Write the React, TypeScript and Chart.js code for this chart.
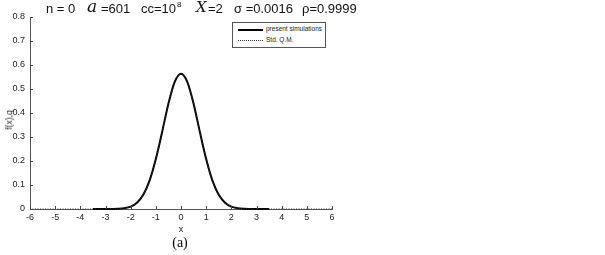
import React, { useEffect, useRef } from "react";
import { Chart, registerables } from "chart.js";

Chart.register(...registerables);

// present simulations (solid)
const simX = [-3.5, -3.25, -3, -2.75, -2.5, -2.25, -2, -1.75, -1.5, -1.25, -1, -0.75, -0.5, -0.25, 0, 0.25, 0.5, 0.75, 1, 1.25, 1.5, 1.75, 2, 2.25, 2.5, 2.75, 3, 3.25, 3.5];
const simY = [0, 0, 0.0001, 0.0003, 0.0011, 0.0036, 0.010, 0.026, 0.059, 0.118, 0.208, 0.321, 0.439, 0.530, 0.564, 0.530, 0.439, 0.321, 0.208, 0.118, 0.059, 0.026, 0.010, 0.0036, 0.0011, 0.0003, 0.0001, 0, 0];

// Std. Q.M. (dotted)
const qmX = [-6, -5.5, -5, -4.5, -4, -3.5, -3.25, -3, -2.75, -2.5, -2.25, -2, -1.75, -1.5, -1.25, -1, -0.75, -0.5, -0.25, 0, 0.25, 0.5, 0.75, 1, 1.25, 1.5, 1.75, 2, 2.25, 2.5, 2.75, 3, 3.25, 3.5, 4, 4.5, 5, 5.5, 6];
const qmY = [0, 0, 0, 0, 0, 0, 0, 0.0001, 0.0003, 0.0011, 0.0036, 0.010, 0.026, 0.059, 0.118, 0.208, 0.321, 0.439, 0.530, 0.564, 0.530, 0.439, 0.321, 0.208, 0.118, 0.059, 0.026, 0.010, 0.0036, 0.0011, 0.0003, 0.0001, 0, 0, 0, 0, 0, 0, 0];

const xTicks = [-6, -5, -4, -3, -2, -1, 0, 1, 2, 3, 4, 5, 6];
const yTicks = [0, 0.1, 0.2, 0.3, 0.4, 0.5, 0.6, 0.7, 0.8];

const seriesNames = ["present simulations", "Std. Q.M."];

const tickFont = { family: "'Liberation Sans', Arial, sans-serif", size: 9 };

const inwardTicks = {
  id: "inwardTicks",
  afterDraw(chart: any) {
    const { ctx, chartArea, scales } = chart;
    ctx.save();
    ctx.strokeStyle = "#444";
    ctx.lineWidth = 1;
    xTicks.forEach((v) => {
      const px = Math.round(scales.x.getPixelForValue(v)) + 0.5;
      ctx.beginPath();
      ctx.moveTo(px, chartArea.bottom);
      ctx.lineTo(px, chartArea.bottom - 3);
      ctx.stroke();
    });
    yTicks.forEach((v) => {
      const py = Math.round(scales.y.getPixelForValue(v)) + 0.5;
      ctx.beginPath();
      ctx.moveTo(chartArea.left, py);
      ctx.lineTo(chartArea.left + 3, py);
      ctx.stroke();
    });
    ctx.restore();
  },
};

export default function App() {
  const ref = useRef<HTMLCanvasElement | null>(null);

  useEffect(() => {
    if (!ref.current) return;
    const chart = new Chart(ref.current, {
      type: "line",
      data: {
        datasets: [
          {
            label: seriesNames[1],
            data: qmX.map((x, i) => ({ x, y: qmY[i] })),
            borderColor: "#333",
            borderWidth: 1,
            borderDash: [1, 1.5],
            pointRadius: 0,
            cubicInterpolationMode: "monotone",
            clip: 2,
          },
          {
            label: seriesNames[0],
            data: simX.map((x, i) => ({ x, y: simY[i] })),
            borderColor: "#000",
            borderWidth: 2,
            pointRadius: 0,
            cubicInterpolationMode: "monotone",
            clip: 2,
          },
        ],
      },
      options: {
        animation: false,
        responsive: true,
        maintainAspectRatio: false,
        layout: { padding: { left: 0, top: 17, right: 273, bottom: 0 } },
        plugins: { legend: { display: false }, tooltip: { enabled: false } },
        scales: {
          x: {
            type: "linear",
            min: -6,
            max: 6,
            afterBuildTicks: (s: any) => {
              s.ticks = xTicks.map((v) => ({ value: v }));
            },
            afterFit: (s: any) => {
              s.height = 46;
            },
            grid: { display: false, drawTicks: false },
            border: { display: true, color: "#555", width: 1 },
            ticks: {
              font: tickFont,
              color: "#222",
              padding: 3,
              maxRotation: 0,
              autoSkip: false,
              callback: (v: any) => String(v),
            },
          },
          y: {
            type: "linear",
            min: 0,
            max: 0.8,
            afterBuildTicks: (s: any) => {
              s.ticks = yTicks.map((v) => ({ value: v }));
            },
            afterFit: (s: any) => {
              s.width = 30;
            },
            grid: { display: false, drawTicks: false },
            border: { display: true, color: "#555", width: 1 },
            ticks: {
              font: tickFont,
              color: "#222",
              padding: 5,
              autoSkip: false,
              callback: (v: any) => String(v),
            },
          },
        },
      },
      plugins: [inwardTicks],
    } as any);
    return () => chart.destroy();
  }, []);

  const titleFont = "'Liberation Sans', Arial, sans-serif";
  const mathFont = "'DejaVu Serif', 'Liberation Serif', serif";
  const t = (left: number, content: React.ReactNode, extra: React.CSSProperties = {}) => (
    <span style={{ position: "absolute", left, top: 0, whiteSpace: "nowrap", ...extra }}>{content}</span>
  );

  return (
    <div style={{ position: "absolute", left: 0, top: 0, width: 605, height: 255, background: "#fff", overflow: "hidden" }}>
      <canvas ref={ref} style={{ position: "absolute", left: 0, top: 0 }} />
      <div style={{ position: "absolute", left: 0, top: 0, width: 605, height: 20, fontFamily: titleFont, fontSize: 13, lineHeight: "17px", color: "#111" }}>
        {t(46, "n = 0")}
        {t(87, "a", { fontFamily: mathFont, fontStyle: "italic", fontSize: 17, top: -2 })}
        {t(101, "=601")}
        {t(141, "cc=10")}
        {t(177, "8", { fontSize: 8, top: -4 })}
        {t(196, "X", { fontFamily: mathFont, fontStyle: "italic", fontSize: 15, top: -1 })}
        {t(208, "=2")}
        {t(234, "σ =0.0016")}
        {t(302, "ρ=0.9999")}
      </div>
      <div style={{ position: "absolute", left: 232, top: 22, width: 92, height: 24, border: "1px solid #555", background: "#fff", fontFamily: titleFont, fontSize: 6.5, color: "#222" }}>
        <div style={{ position: "absolute", left: 5, top: 6, width: 25, borderTop: "2px solid #000" }} />
        <div style={{ position: "absolute", left: 33, top: 2, whiteSpace: "nowrap" }}>{seriesNames[0]}</div>
        <div style={{ position: "absolute", left: 5, top: 17, width: 25, borderTop: "1px dotted #333" }} />
        <div style={{ position: "absolute", left: 33, top: 13, whiteSpace: "nowrap" }}>{seriesNames[1]}</div>
      </div>
      <div style={{ position: "absolute", left: 9, top: 120, transform: "translate(-50%, -50%) rotate(-90deg)", fontFamily: titleFont, fontSize: 8.5, color: "#222", whiteSpace: "nowrap" }}>f(x),q</div>
      <div style={{ position: "absolute", left: 181, top: 229, transform: "translate(-50%, -50%)", fontFamily: titleFont, fontSize: 9, color: "#222" }}>x</div>
      <div style={{ position: "absolute", left: 180, top: 243, transform: "translate(-50%, -50%)", fontFamily: "'Liberation Serif', 'Times New Roman', serif", fontSize: 14, color: "#000" }}>(a)</div>
    </div>
  );
}
